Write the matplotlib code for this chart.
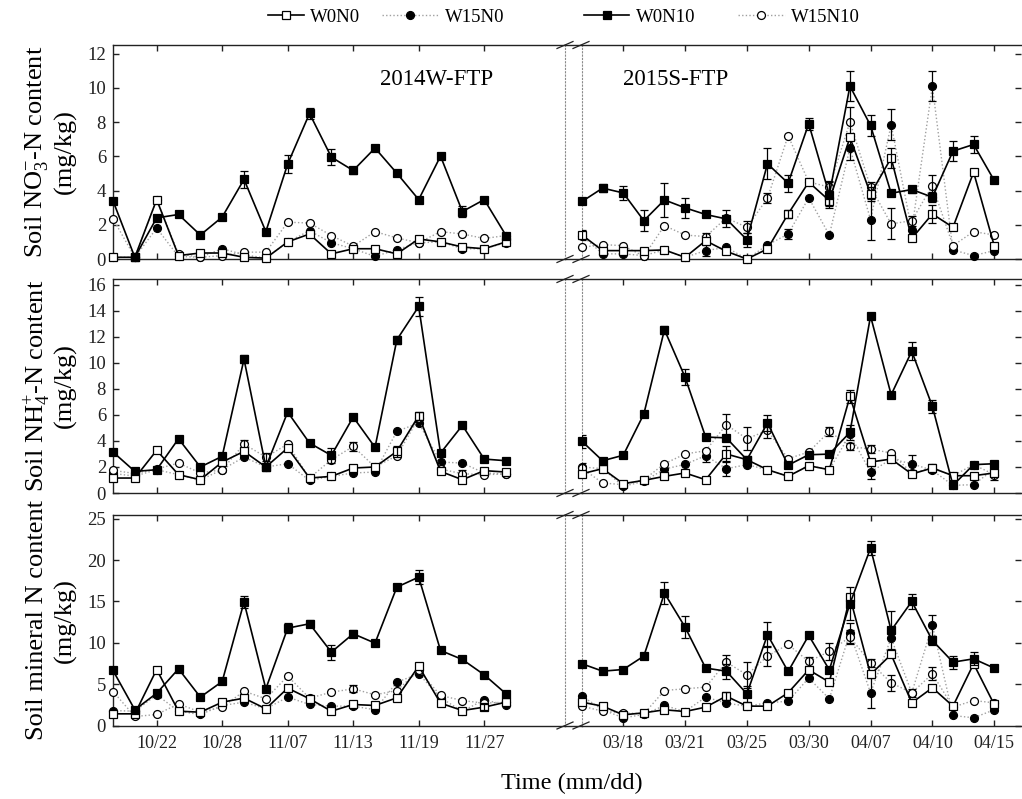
import matplotlib
matplotlib.use("Agg")
import matplotlib.pyplot as plt
from matplotlib.lines import Line2D
import numpy as np


SERIES = ["W0N0", "W15N0", "W0N10", "W15N10"]

# sampling slots: 2014 winter (19 samplings) and 2015 spring (21 samplings)
TICKS_2014 = [2, 5, 8, 11, 14, 17]
DATES_2014 = ["10/22", "10/28", "11/07", "11/13", "11/19", "11/27"]
TICKS_2015 = [2, 5, 8, 11, 14, 17, 20]
DATES_2015 = ["03/18", "03/21", "03/25", "03/30", "04/07", "04/10", "04/15"]

# ---- nitrate (mg/kg) ----
NO3_14_W0N0 = [0.1, 0.1, 3.47, 0.2, 0.35, 0.35, 0.1, 0.05, 1.0, 1.46, 0.3, 0.6, 0.6, 0.3, 1.17, 1.0, 0.7, 0.6, 1.0]
NO3_14_W15N0 = [0.1, 0.1, 1.8, 0.15, 0.1, 0.6, 0.25, 0.05, 1.0, 1.65, 0.95, 0.6, 0.15, 0.55, 0.95, 1.0, 0.6, 0.6, 0.95]
NO3_14_W0N10 = [3.4, 0.1, 2.4, 2.6, 1.4, 2.45, 4.65, 1.6, 5.55, 8.5, 5.95, 5.17, 6.48, 5.01, 3.47, 6.01, 2.77, 3.47, 1.37]
NO3_14_W15N10 = [2.35, 0.1, 3.47, 0.3, 0.1, 0.2, 0.4, 0.4, 2.15, 2.1, 1.37, 0.75, 1.6, 1.23, 0.95, 1.6, 1.46, 1.2, 1.37]

NO3_15_W0N0 = [1.4, 0.49, 0.49, 0.49, 0.53, 0.1, 1.07, 0.45, 0.0, 0.59, 2.63, 4.49, 3.41, 7.1, 3.8, 5.9, 1.2, 2.63, 1.85, 5.07, 0.78]
NO3_15_W15N0 = [1.37, 0.3, 0.3, 0.2, 0.53, 0.1, 0.49, 0.68, 0.0, 0.82, 1.46, 3.57, 1.4, 6.48, 2.3, 7.84, 1.7, 10.1, 0.53, 0.2, 0.49]
NO3_15_W0N10 = [3.36, 4.14, 3.86, 2.24, 3.45, 2.99, 2.6, 2.34, 1.13, 5.56, 4.43, 7.9, 3.75, 10.1, 7.8, 3.84, 4.06, 3.61, 6.3, 6.69, 4.59]
NO3_15_W15N10 = [0.68, 0.84, 0.78, 0.16, 1.95, 1.4, 1.31, 2.4, 1.85, 3.55, 7.2, 4.5, 4.2, 8.0, 4.2, 2.05, 2.24, 4.29, 0.78, 1.6, 1.4]

# ---- ammonium (mg/kg) ----
NH4_14_W0N0 = [1.15, 1.15, 3.28, 1.41, 1.02, 2.38, 3.2, 2.0, 3.46, 1.15, 1.28, 1.92, 2.0, 3.2, 5.94, 1.66, 1.02, 1.72, 1.61]
NH4_14_W15N0 = [1.5, 1.3, 1.79, 1.41, 1.0, 1.8, 2.76, 2.0, 2.25, 0.97, 1.28, 1.54, 1.61, 4.74, 5.38, 2.38, 2.3, 1.54, 1.46]
NH4_14_W0N10 = [3.15, 1.66, 1.79, 4.17, 2.0, 2.82, 10.29, 2.0, 6.22, 3.84, 2.89, 5.84, 3.51, 11.78, 14.34, 3.07, 5.2, 2.61, 2.48]
NH4_14_W15N10 = [1.74, 1.5, 1.84, 2.3, 1.54, 1.79, 3.76, 2.76, 3.76, 1.15, 2.56, 3.58, 2.0, 2.87, 5.76, 1.84, 1.48, 1.41, 1.46]

NH4_15_W0N0 = [1.48, 1.87, 0.72, 0.97, 1.28, 1.54, 1.02, 3.0, 2.56, 1.79, 1.28, 2.1, 1.79, 7.42, 2.38, 2.61, 1.46, 1.92, 1.33, 1.33, 1.54]
NH4_15_W15N0 = [2.0, 1.87, 0.51, 0.9, 1.84, 2.2, 2.87, 1.87, 2.18, 1.79, 1.28, 2.1, 1.79, 4.5, 1.61, 2.61, 2.25, 1.74, 0.59, 0.64, 1.84]
NH4_15_W0N10 = [3.97, 2.48, 2.9, 6.07, 12.55, 8.9, 4.3, 4.24, 2.56, 5.38, 2.14, 2.94, 2.99, 4.66, 13.6, 7.55, 10.9, 6.66, 0.59, 2.18, 2.25]
NH4_15_W15N10 = [1.9, 0.77, 0.64, 1.02, 2.25, 3.0, 3.25, 5.25, 4.17, 4.81, 2.64, 3.15, 4.74, 3.58, 3.38, 3.07, 1.54, 1.92, 1.33, 2.18, 1.41]

# ---- mineral N (mg/kg) ----
MIN_14_W0N0 = [1.41, 1.41, 6.77, 1.73, 1.61, 2.82, 3.31, 2.02, 4.52, 3.23, 1.73, 2.54, 2.42, 3.35, 7.18, 2.7, 1.81, 2.22, 2.82]
MIN_14_W15N0 = [1.81, 1.73, 3.71, 1.73, 1.33, 2.42, 2.82, 2.02, 3.43, 2.54, 2.34, 2.34, 1.9, 5.24, 6.25, 3.35, 1.73, 3.1, 2.5]
MIN_14_W0N10 = [6.65, 1.9, 3.9, 6.85, 3.43, 5.32, 14.92, 4.44, 11.77, 12.3, 8.87, 11.09, 9.96, 16.73, 17.94, 9.07, 7.98, 6.13, 3.83]
MIN_14_W15N10 = [4.11, 1.09, 1.33, 2.62, 1.61, 2.22, 4.15, 3.23, 5.97, 3.31, 4.03, 4.44, 3.71, 4.23, 6.65, 3.63, 3.02, 2.7, 2.82]

MIN_15_W0N0 = [2.82, 2.34, 1.29, 1.53, 1.9, 1.69, 2.22, 3.55, 2.34, 2.34, 3.95, 6.73, 5.24, 15.52, 6.17, 8.59, 2.74, 4.56, 2.34, 7.46, 2.54]
MIN_15_W15N0 = [3.55, 1.9, 0.93, 1.33, 2.42, 1.69, 3.43, 2.7, 2.34, 2.74, 2.94, 5.73, 3.23, 11.21, 3.95, 10.56, 3.95, 12.1, 1.21, 0.93, 1.9]
MIN_15_W0N10 = [7.46, 6.57, 6.77, 8.39, 16.0, 11.9, 6.94, 6.57, 3.83, 10.97, 6.53, 10.89, 6.73, 14.72, 21.45, 11.49, 15.0, 10.28, 7.66, 8.06, 6.94]
MIN_15_W15N10 = [2.34, 1.73, 1.53, 1.41, 4.23, 4.44, 4.64, 7.66, 6.13, 8.39, 9.8, 7.74, 8.95, 10.69, 7.58, 5.16, 3.95, 6.25, 2.22, 3.02, 2.74]

# ---- standard errors (0 = bar hidden by the marker) ----
NO3_14_ERR = {
    "W0N10": [0, 0, 0, 0, 0, 0, 0.5, 0, 0.55, 0.3, 0.45, 0.2, 0, 0, 0, 0, 0.3, 0, 0],
}
NO3_15_ERR = {
    "W0N0": [0.3, 0, 0, 0, 0, 0, 0, 0, 0, 0, 0.25, 0, 0.3, 0, 0.4, 0.6, 0, 0.5, 0, 0, 0],
    "W15N0": [0, 0, 0, 0, 0, 0, 0.3, 0, 0, 0, 0.3, 0, 0, 0.7, 1.2, 0.9, 0, 0.9, 0, 0, 0],
    "W0N10": [0, 0.25, 0.4, 0.6, 1.0, 0.6, 0, 0.5, 0.4, 0.9, 0.5, 0.35, 0.8, 0.9, 0.6, 0, 0.2, 0.3, 0.6, 0.5, 0],
    "W15N10": [0, 0, 0, 0, 0, 0, 0.2, 0, 0.35, 0.3, 0, 0.2, 0.3, 0.9, 0.3, 0.9, 0.3, 0.6, 0, 0, 0],
}
NH4_14_ERR = {
    "W0N0": [0, 0, 0, 0, 0, 0, 0, 0, 0, 0, 0, 0, 0, 0.4, 0.3, 0, 0, 0, 0],
    "W0N10": [0, 0, 0, 0, 0, 0, 0.3, 0, 0, 0, 0.6, 0, 0, 0.3, 0.7, 0, 0, 0, 0],
    "W15N10": [0, 0, 0, 0, 0, 0, 0.3, 0.3, 0, 0, 0, 0.35, 0, 0, 0, 0, 0.3, 0, 0],
}
NH4_15_ERR = {
    "W0N0": [0, 0, 0, 0, 0, 0, 0, 0.6, 0, 0, 0, 0, 0, 0.5, 0, 0, 0, 0, 0, 0, 0],
    "W15N0": [0, 0, 0, 0, 0, 0, 0.5, 0.6, 0, 0, 0, 0, 0, 0, 0.5, 0, 0.7, 0, 0, 0, 0],
    "W0N10": [0.5, 0, 0, 0, 0.3, 0.6, 0, 0, 0, 0.6, 0, 0, 0, 0.6, 0, 0, 0.7, 0.5, 0, 0, 0],
    "W15N10": [0.4, 0, 0, 0, 0, 0, 0, 0.8, 0.9, 0.6, 0, 0, 0.35, 0.3, 0.3, 0, 0, 0.3, 0, 0, 0.4],
}
MIN_14_ERR = {
    "W0N0": [0, 0, 0, 0, 0, 0, 0, 0, 0, 0, 0, 0, 0, 0, 0, 0, 0, 0.4, 0],
    "W0N10": [0, 0, 0, 0, 0, 0, 0.7, 0, 0.6, 0.4, 0.9, 0.4, 0, 0.4, 0.8, 0.3, 0.2, 0, 0],
    "W15N10": [0, 0, 0, 0, 0, 0, 0, 0, 0, 0, 0, 0.4, 0, 0, 0, 0, 0, 0, 0],
}
MIN_15_ERR = {
    "W0N0": [0, 0, 0, 0, 0, 0, 0, 0.5, 0, 0, 0, 0, 0, 0, 0, 0, 0, 0, 0, 0, 0],
    "W15N0": [0, 0, 0, 0, 0, 0, 0, 0, 0, 0, 0, 0, 0, 1.2, 1.8, 0, 0.5, 1.3, 0, 0, 0],
    "W0N10": [0, 0.4, 0, 0.4, 1.3, 1.3, 0, 0.9, 1.0, 1.5, 0, 0, 0, 2.0, 0.8, 2.3, 0.9, 0.6, 0.8, 0.8, 0],
    "W15N10": [0, 0, 0, 0, 0, 0, 0, 0.9, 1.6, 1.2, 0, 0.5, 1.0, 0.8, 0.5, 1.0, 0, 0.8, 0, 0, 0],
}

ROWS = [
    dict(label="Soil NO$_3^{-}$-N content", ylim=12.5, yticks=np.arange(0, 13, 2),
         left=[NO3_14_W0N0, NO3_14_W15N0, NO3_14_W0N10, NO3_14_W15N10], left_err=NO3_14_ERR,
         right=[NO3_15_W0N0, NO3_15_W15N0, NO3_15_W0N10, NO3_15_W15N10], right_err=NO3_15_ERR),
    dict(label="Soil NH$_4^{+}$-N content", ylim=16.45, yticks=np.arange(0, 17, 2),
         left=[NH4_14_W0N0, NH4_14_W15N0, NH4_14_W0N10, NH4_14_W15N10], left_err=NH4_14_ERR,
         right=[NH4_15_W0N0, NH4_15_W15N0, NH4_15_W0N10, NH4_15_W15N10], right_err=NH4_15_ERR),
    dict(label="Soil mineral N content", ylim=25.45, yticks=np.arange(0, 26, 5),
         left=[MIN_14_W0N0, MIN_14_W15N0, MIN_14_W0N10, MIN_14_W15N10], left_err=MIN_14_ERR,
         right=[MIN_15_W0N0, MIN_15_W15N0, MIN_15_W0N10, MIN_15_W15N10], right_err=MIN_15_ERR),
]

STYLE = {
    "W0N0": dict(marker="s", mfc="white", color="black", ls="-", lw=1.2, z=4),
    "W15N0": dict(marker="o", mfc="black", color="#a0a0a0", ls=(0, (1, 1.6)), lw=1.0, z=3),
    "W0N10": dict(marker="s", mfc="black", color="black", ls="-", lw=1.2, z=5),
    "W15N10": dict(marker="o", mfc="white", color="#a0a0a0", ls=(0, (1, 1.6)), lw=1.0, z=3.5),
}

plt.rcParams.update({
    "font.family": "Liberation Serif",
    "mathtext.fontset": "custom",
    "mathtext.rm": "Liberation Serif",
    "mathtext.it": "Liberation Serif:italic",
    "mathtext.bf": "Liberation Serif:bold",
    "axes.linewidth": 1.0,
    "axes.edgecolor": "#222222",
})

W, H = 1022, 799
fig = plt.figure(figsize=(W / 100, H / 100), dpi=100)

# pixel geometry of the panels
LX0, LX1 = 113, 565
RX0, RX1 = 582, 1021
ROW_Y = [(45, 259), (279, 493), (515, 725.5)]
LEFT_XMAX = 20.7
RIGHT_XMAX = 21.3


def frac_box(x0, x1, y0, y1):
    return [x0 / W, 1 - y1 / H, (x1 - x0) / W, (y1 - y0) / H]


def draw_series(ax, values, errs):
    for name, vals in zip(SERIES, values):
        st = STYLE[name]
        x = np.arange(len(vals))
        y = np.asarray(vals, dtype=float)
        ax.plot(x, y, color=st["color"], ls=st["ls"], lw=st["lw"], marker=st["marker"],
                ms=5.7, mfc=st["mfc"], mec="black", mew=0.9, zorder=st["z"],
                clip_on=False, label=name)
        if name in errs:
            e = np.asarray(errs[name], dtype=float)
            m = e > 0
            ax.errorbar(x[m], y[m], yerr=e[m], fmt="none", ecolor="black",
                        elinewidth=0.9, capsize=2.6, capthick=0.9, zorder=st["z"] + 0.1)


for r, row in enumerate(ROWS):
    y0, y1 = ROW_Y[r]
    axl = fig.add_axes(frac_box(LX0, LX1, y0, y1))
    axr = fig.add_axes(frac_box(RX0, RX1, y0, y1))

    draw_series(axl, row["left"], row["left_err"])
    draw_series(axr, row["right"], row["right_err"])

    for ax, xmax, ticks, labels in ((axl, LEFT_XMAX, TICKS_2014, DATES_2014),
                                    (axr, RIGHT_XMAX, TICKS_2015, DATES_2015)):
        ax.set_xlim(0, xmax)
        ax.set_ylim(0, row["ylim"])
        ax.set_yticks(row["yticks"])
        ax.set_xticks(ticks)
        if r == 2:
            ax.set_xticklabels(labels)
        else:
            ax.set_xticklabels([])
        ax.tick_params(axis="x", direction="in", length=4.5, width=1.0, top=True,
                       labelsize=13, pad=7, colors="#222222")
        ax.tick_params(axis="y", direction="in", length=4.5, width=1.0,
                       labelsize=13.5, pad=5, colors="#222222")

    axl.tick_params(axis="y", left=True, right=False)
    axl.spines["right"].set_linestyle((0, (1, 2)))
    axl.spines["right"].set_color("#8a8a8a")
    axl.spines["right"].set_linewidth(0.8)

    axr.tick_params(axis="y", left=False, right=True, labelleft=False, labelright=False)
    axr.spines["left"].set_linestyle((0, (1, 2)))
    axr.spines["left"].set_color("#8a8a8a")
    axr.spines["left"].set_linewidth(0.8)
    axr.spines["right"].set_visible(False)

    # spines carried across the break, plus the // marks
    for yp in (y0, y1):
        yf = 1 - yp / H
        fig.add_artist(Line2D([LX1 / W, RX0 / W], [yf, yf], color="#222222", lw=1.0))
        for xb in (LX1, RX0 - 1):
            fig.add_artist(Line2D([(xb - 8) / W, (xb + 8) / W],
                                  [yf - 3.5 / H, yf + 3.5 / H], color="#222222", lw=0.9))

    # y label in two lines
    yc = 1 - (y0 + y1) / 2 / H
    fig.text(37 / W, yc, row["label"], rotation=90, ha="center", va="center", fontsize=19)
    fig.text(65 / W, yc, "(mg/kg)", rotation=90, ha="center", va="center", fontsize=19)

    if r == 0:
        axl.text(0.59, 0.84, "2014W-FTP", transform=axl.transAxes, ha="left",
                 va="center", fontsize=16.5)
        axr.text(0.093, 0.84, "2015S-FTP", transform=axr.transAxes, ha="left",
                 va="center", fontsize=16.5)
        handles, names = axl.get_legend_handles_labels()

fig.text(572 / W, 1 - 783 / H, "Time (mm/dd)", ha="center", va="center", fontsize=17.5)

# legend entries laid out across the top
LEG_X = [268, 382, 584, 738]
LEG_LEN = [1.9, 3.0, 2.4, 2.5]
for h, n, lx, hl in zip(handles, names, LEG_X, LEG_LEN):
    fig.legend([h], [n], loc="center left", bbox_to_anchor=(lx / W, 1 - 17 / H),
               frameon=False, fontsize=13.5, handlelength=hl, handletextpad=0.35,
               borderpad=0, borderaxespad=0)

fig.savefig("out.png", dpi=100)
